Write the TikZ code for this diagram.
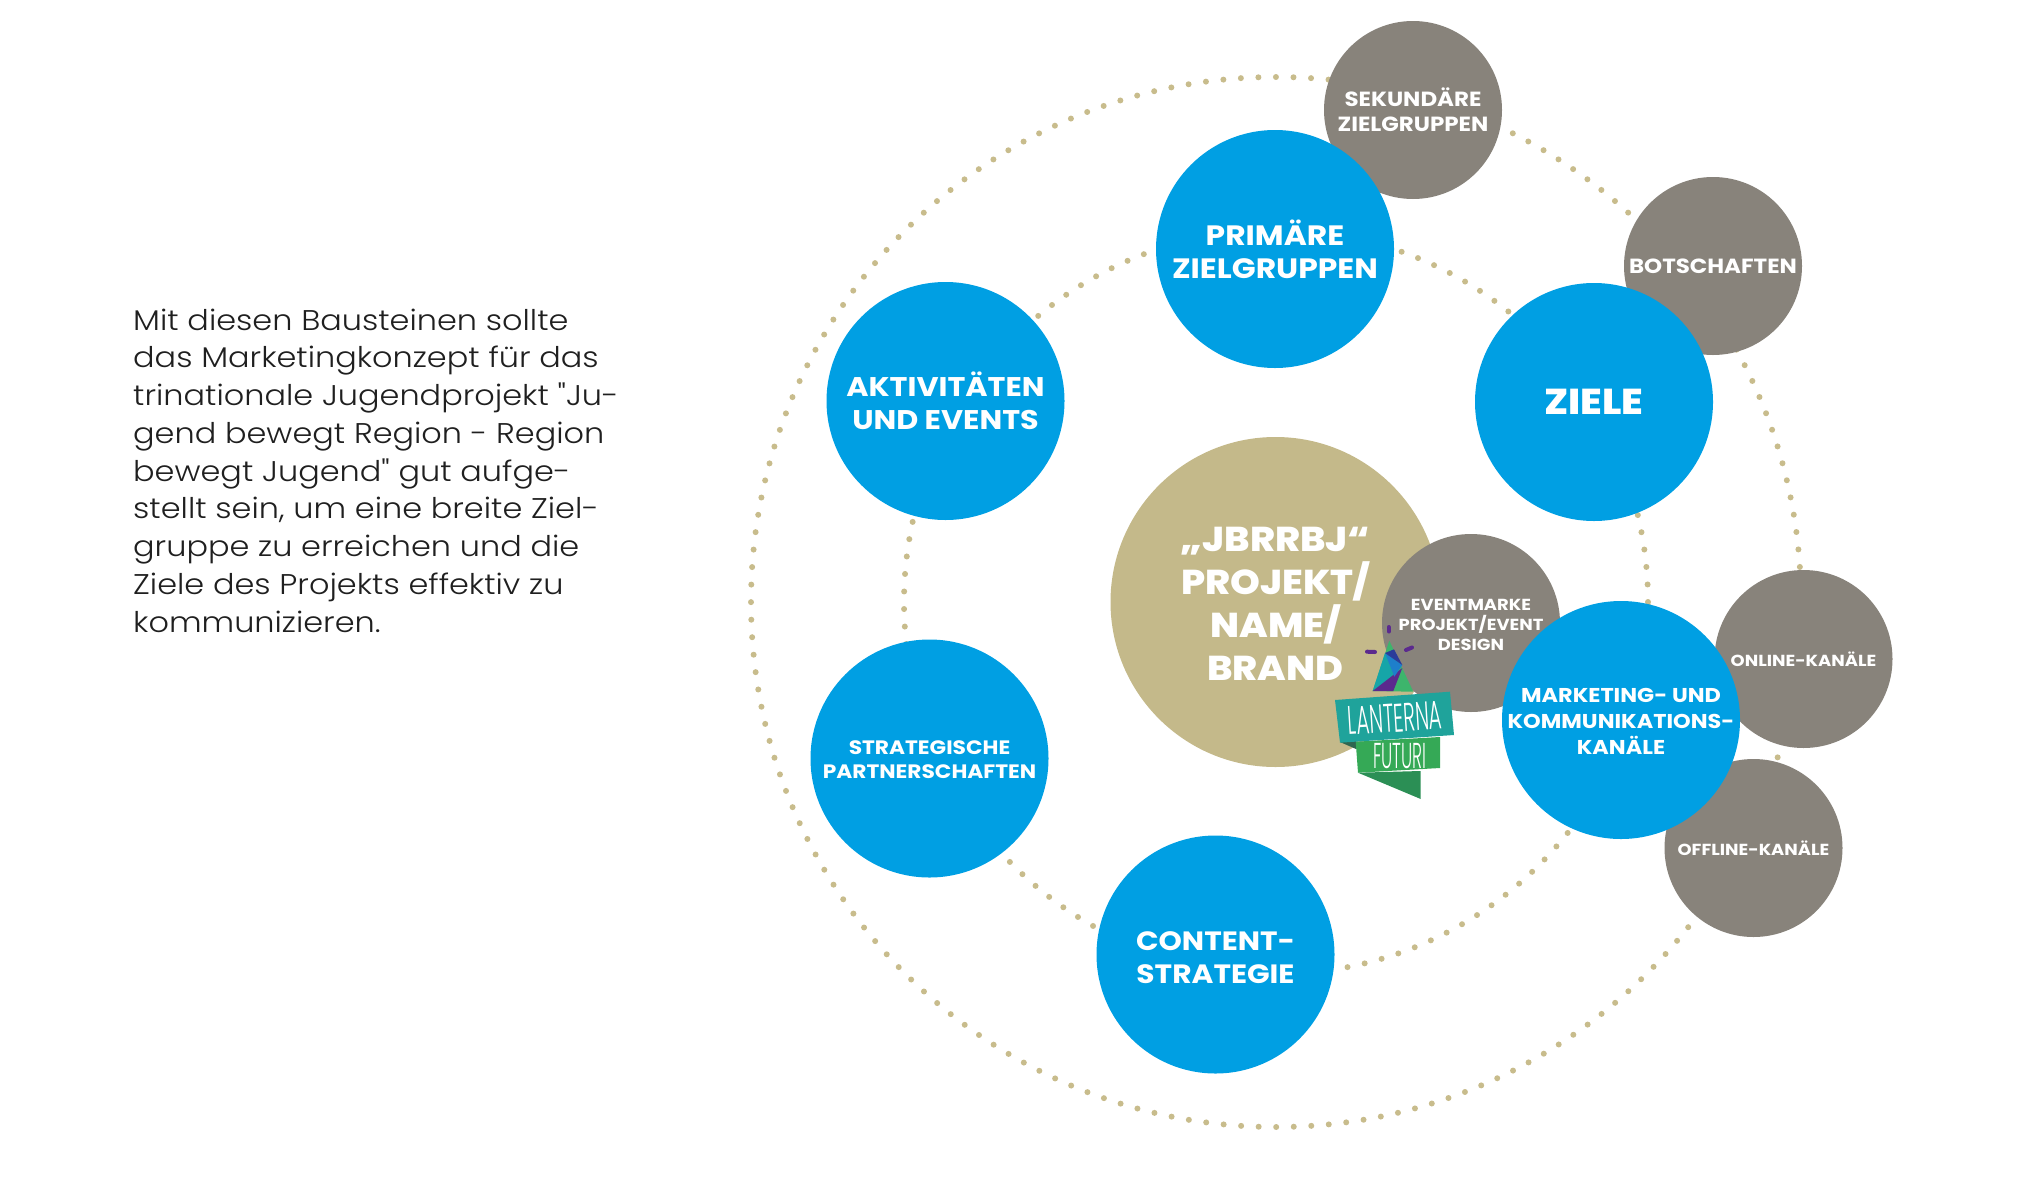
\documentclass[tikz,border=0pt]{standalone}
\usepackage{fontspec}
\setmainfont{Poppins}
\newfontfamily\headfont[FakeStretch=1.12]{Poppins Bold}
\newfontfamily\heavyfont[FakeStretch=1.1]{Poppins ExtraBold}
\newfontfamily\bodyfont[FakeStretch=1.12]{Poppins Light}
\newfontfamily\logofont{Poppins Light}
\definecolor{bluec}{HTML}{009FE3}
\definecolor{tanc}{HTML}{C4B98A}
\definecolor{grayc}{HTML}{88837B}
\definecolor{dotc}{HTML}{C8BC8C}
\definecolor{logoteal}{HTML}{1FA39B}
\definecolor{logogreen}{HTML}{35A956}
\definecolor{logodark}{HTML}{2B8F55}
\definecolor{logoshade}{HTML}{2F6650}
\definecolor{logoapex}{HTML}{3DB56C}
\definecolor{logocyan}{HTML}{16A5A8}
\definecolor{logoblue}{HTML}{1E7FCB}
\definecolor{logonavy}{HTML}{2A3C9A}
\definecolor{logopurple}{HTML}{5B2A8E}
\tikzset{
  ringdots/.style={draw=dotc,line width=6pt,line cap=round,dash pattern=on 0pt off 17.55pt},
  disc/.style={circle,inner sep=0pt,align=center,text=white},
  bluedisc/.style={disc,fill=bluec,minimum size=238pt},
  graydisc/.style={disc,fill=grayc,minimum size=178pt},
  caption/.style={inner sep=0pt,align=center,text=white},
  tl/.style={font=\headfont\fontsize{26.5}{33}\selectfont},
  tm/.style={font=\headfont\fontsize{20.5}{25}\selectfont},
  ts/.style={font=\headfont\fontsize{16}{20}\selectfont},
  logotext/.style={text=white,inner sep=0pt},
  spark/.style={draw=logopurple,line width=4pt,line cap=round},
}
\begin{document}
\begin{tikzpicture}[x=1pt,y=-1pt]
\useasboundingbox (0,0) rectangle (2027,1200);
\coordinate (c) at (1276,602);
\draw[ringdots] (c) circle[radius=525pt];
\draw[ringdots] (c) circle[radius=372pt];
\node[graydisc,tm] (sek) at (1413,110) {SEKUNDÄRE\\ZIELGRUPPEN};
\node[graydisc,tm] (bot) at (1713,266) {BOTSCHAFTEN};
\node[graydisc,ts] (off) at (1753.5,848) {OFFLINE-KANÄLE};
\node[graydisc,ts] (onl) at (1803.5,659) {ONLINE-KANÄLE};
\node[bluedisc,font=\headfont\fontsize{28}{33}\selectfont] (pri) at (1275,249) {PRIMÄRE\\ZIELGRUPPEN};
\node[bluedisc,font=\heavyfont\fontsize{36}{44}\selectfont] (zie) at (1594,402) {ZIELE};
\node[bluedisc,font=\headfont\fontsize{27}{33}\selectfont] (akt) at (945.5,401) {AKTIVITÄTEN\\UND EVENTS};
\node[bluedisc] (str) at (929.5,758.5) {};
\node[caption,font=\headfont\fontsize{19.4}{24}\selectfont] (strt) at ([yshift=-1.5pt]str.center) {STRATEGISCHE\\PARTNERSCHAFTEN};
\node[bluedisc] (con) at (1215.5,954.5) {};
\node[caption,tl] (cont) at ([yshift=-2.8pt]con.center) {CONTENT-\\STRATEGIE};
\node[disc,fill=tanc,minimum size=330pt] (mid) at (1275.5,602) {};
\node[caption,font=\heavyfont\fontsize{34.5}{43}\selectfont] (midt) at ([yshift=-2pt]mid.center) {„JBRRBJ“\\PROJEKT/\\NAME/\\BRAND};
\node[graydisc] (evt) at (1471,623) {};
\node[caption,ts] (evtt) at ([yshift=-1.5pt]evt.center) {EVENTMARKE\\PROJEKT/EVENT\\DESIGN};
\node[bluedisc] (mar) at (1621,720) {};
\node[caption,font=\headfont\fontsize{20}{26}\selectfont] (mart) at ([yshift=-1pt]mar.center) {MARKETING- UND\\KOMMUNIKATIONS-\\KANÄLE};
% logo
\fill[logoapex] (1372.7,691) -- (1389.3,640.7) -- (1413.3,691.7) -- cycle;
\fill[logocyan] (1372.7,691) -- (1385,653) -- (1394.3,676.7) -- cycle;
\fill[logopurple] (1372.7,691) -- (1402.3,668) -- (1393.3,691) -- cycle;
\fill[logoblue] (1385,653) -- (1402.3,665) -- (1394.3,676.7) -- cycle;
\fill[logonavy] (1385,653) -- (1394,649.3) -- (1402.3,665) -- cycle;
\draw[spark] (1367,651.7) -- (1375,652);
\draw[spark] (1406,650) -- (1412,647.5);
\draw[spark] (1388.7,627) -- (1388.7,631.5);
\fill[logoshade] (1340,742) -- (1356,749) -- (1356,738) -- (1372,738) -- cycle;
\fill[logogreen] (1355.7,741.7) -- (1440,737) -- (1440,768) -- (1358,772.7) -- cycle;
\fill[logodark] (1358,772.7) -- (1420.7,771) -- (1420.7,799) -- cycle;
\fill[logoteal] (1335,700) -- (1450,691.7) -- (1454,735) -- (1340,742.7) -- cycle;
\node[logotext,rotate=3.5,xscale=.5,font=\logofont\fontsize{40}{40}\selectfont] (lan) at (1395,718) {LANTERNA};
\node[logotext,xscale=.47,font=\logofont\fontsize{36}{36}\selectfont] (fut) at (1400,756) {FUTURI};
% text
\node[anchor=north west,inner sep=0pt,align=left,text=black!88,font=\bodyfont\fontsize{28.5}{37.75}\selectfont] (body) at (133,308.5) {Mit diesen Bausteinen sollte\\das Marketingkonzept für das\\trinationale Jugendprojekt "Ju-\\gend bewegt Region - Region\\bewegt Jugend" gut aufge-\\stellt sein, um eine breite Ziel-\\gruppe zu erreichen und die\\Ziele des Projekts effektiv zu\\kommunizieren.};
\end{tikzpicture}
\end{document}
